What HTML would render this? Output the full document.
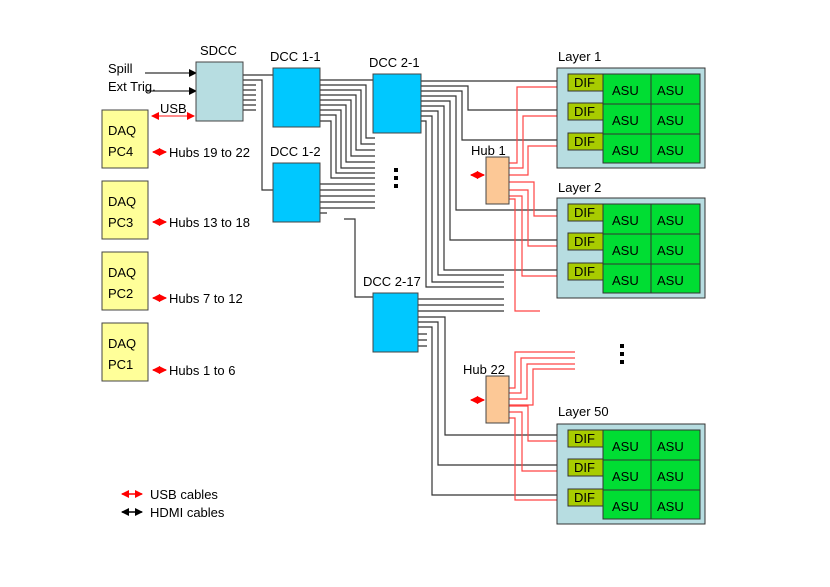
<!DOCTYPE html>
<html><head><meta charset="utf-8"><style>
html,body{margin:0;padding:0;background:#fff}
svg{display:block}
text{font-family:"Liberation Sans",Arial,sans-serif;font-size:13px;fill:#000}
</style></head><body>
<svg width="830" height="587" viewBox="0 0 830 587" xmlns="http://www.w3.org/2000/svg">
<defs>
<marker id="ab" markerWidth="8" markerHeight="8" refX="7" refY="4" orient="auto" markerUnits="userSpaceOnUse"><path d="M0,0 L8,4 L0,8 z" fill="#000"/></marker>
<marker id="ar" markerWidth="8" markerHeight="8" refX="7" refY="4" orient="auto-start-reverse" markerUnits="userSpaceOnUse"><path d="M0,0 L8,4 L0,8 z" fill="#f00"/></marker>
<marker id="ak" markerWidth="8" markerHeight="8" refX="7" refY="4" orient="auto-start-reverse" markerUnits="userSpaceOnUse"><path d="M0,0 L8,4 L0,8 z" fill="#000"/></marker>
</defs>

<g fill="none" stroke="#333" stroke-width="1.2">
<line x1="145" y1="73" x2="196" y2="73" marker-end="url(#ab)"/>
<line x1="145" y1="91" x2="196" y2="91" marker-end="url(#ab)"/>
<polyline points="243,75 273,75"/>
<polyline points="243,80 262,80 262,190 273,190"/>
<path d="M243,85h13M243,90h13M243,95h13M243,100h13M243,105h13M243,110h13"/>
<!-- DCC 1-1 outputs -->
<polyline points="320,80 373,80"/>
<polyline points="320,85 366,85 366,138 375,138"/>
<polyline points="320,90 361,90 361,144 375,144"/>
<polyline points="320,95 356,95 356,150 375,150"/>
<polyline points="320,100 351,100 351,156 375,156"/>
<polyline points="320,105 346,105 346,162 375,162"/>
<polyline points="320,110 341,110 341,168 375,168"/>
<polyline points="320,115 336,115 336,173 375,173"/>
<polyline points="320,121 331,121 331,178 375,178"/>
<!-- DCC 1-2 outputs -->
<path d="M320,184h55M320,190h55M320,196h55M320,202h55M320,208h55M320,213h7"/>
<polyline points="344,219 355,219 355,297 373,297"/>
<!-- DCC 2-1 outputs -->
<polyline points="421,81 568,81"/>
<polyline points="421,86 468,86 468,110 568,110"/>
<polyline points="421,91 462,91 462,140 568,140"/>
<polyline points="421,96 456,96 456,210 568,210"/>
<polyline points="421,101 450,101 450,240 568,240"/>
<polyline points="421,106 444,106 444,270 568,270"/>
<polyline points="421,111 438,111 438,275 504,275"/>
<polyline points="421,116 432,116 432,282 504,282"/>
<polyline points="421,121 426,121 426,287 504,287"/>
<!-- DCC 2-17 outputs -->
<path d="M418,299h86M418,305h86M418,311h86"/>
<polyline points="418,317 445,317 445,435 568,435"/>
<polyline points="418,322 438,322 438,465 568,465"/>
<polyline points="418,327 432,327 432,495 568,495"/>
<path d="M418,334h9M418,340h9M418,346h9"/>
</g>

<g fill="none" stroke="#f44" stroke-width="1.2">
<line x1="152" y1="116" x2="194" y2="116" marker-start="url(#ar)" marker-end="url(#ar)"/>
<polyline points="509,163 517,163 517,87 568,87"/>
<polyline points="509,168 523,168 523,116 568,116"/>
<polyline points="509,175 528,175 528,146 568,146"/>
<polyline points="509,182 534,182 534,216 568,216"/>
<polyline points="509,190 528,190 528,246 568,246"/>
<polyline points="509,196 522,196 522,276 568,276"/>
<polyline points="509,199 515,199 515,311 540,311"/>
<polyline points="509,388 515,388 515,352 575,352"/>
<polyline points="509,393 521,393 521,358 575,358"/>
<polyline points="509,399 527,399 527,364 575,364"/>
<polyline points="509,405 533,405 533,369 575,369"/>
<polyline points="509,406 528,406 528,441 568,441"/>
<polyline points="509,412 522,412 522,471 568,471"/>
<polyline points="509,418 515,418 515,500 568,500"/>
</g>
<g stroke="#f00" stroke-width="1.5" fill="none">
<line x1="153" y1="152" x2="166" y2="152" marker-start="url(#ar)" marker-end="url(#ar)"/>
<line x1="153" y1="222" x2="166" y2="222" marker-start="url(#ar)" marker-end="url(#ar)"/>
<line x1="153" y1="298" x2="166" y2="298" marker-start="url(#ar)" marker-end="url(#ar)"/>
<line x1="153" y1="370" x2="166" y2="370" marker-start="url(#ar)" marker-end="url(#ar)"/>
<line x1="471" y1="175" x2="484" y2="175" marker-start="url(#ar)" marker-end="url(#ar)"/>
<line x1="471" y1="400" x2="484" y2="400" marker-start="url(#ar)" marker-end="url(#ar)"/>
<line x1="122" y1="494" x2="142" y2="494" marker-start="url(#ar)" marker-end="url(#ar)"/>
</g>
<line x1="122" y1="512" x2="142" y2="512" stroke="#000" stroke-width="1.5" marker-start="url(#ak)" marker-end="url(#ak)"/>

<g stroke="#444" stroke-width="1">
<rect x="196" y="62" width="47" height="59" fill="#b7dde1"/>
<rect x="273" y="68" width="47" height="59" fill="#00c8ff"/>
<rect x="273" y="163" width="47" height="59" fill="#00c8ff"/>
<rect x="373" y="74" width="48" height="59" fill="#00c8ff"/>
<rect x="373" y="293" width="45" height="59" fill="#00c8ff"/>
<rect x="486" y="157" width="23" height="47" fill="#fcc896"/>
<rect x="486" y="376" width="23" height="47" fill="#fcc896"/>
<rect x="102" y="110" width="46" height="58" fill="#ffff99"/>
<rect x="102" y="181" width="46" height="58" fill="#ffff99"/>
<rect x="102" y="252" width="46" height="58" fill="#ffff99"/>
<rect x="102" y="323" width="46" height="58" fill="#ffff99"/>
</g>

<g id="L1" stroke="#333" stroke-width="1">
<rect x="557" y="68" width="148" height="100" fill="#b7dde1"/>
<rect x="603" y="74" width="97" height="89" fill="#00dd33"/>
<path d="M603,104h97M603,134h97M651,74v89" fill="none"/>
<rect x="568" y="74" width="35" height="17" fill="#a8cc00"/>
<rect x="568" y="103" width="35" height="17" fill="#a8cc00"/>
<rect x="568" y="133" width="35" height="17" fill="#a8cc00"/>
</g>
<use href="#L1" y="130"/>
<use href="#L1" y="356"/>

<g>
<text x="200" y="55">SDCC</text>
<text x="270" y="61">DCC 1-1</text>
<text x="270" y="156">DCC 1-2</text>
<text x="369" y="67">DCC 2-1</text>
<text x="363" y="286">DCC 2-17</text>
<text x="471" y="155">Hub 1</text>
<text x="463" y="374">Hub 22</text>
<text x="108" y="73">Spill</text>
<text x="108" y="91">Ext Trig.</text>
<text x="160" y="113">USB</text>
<text x="108" y="135">DAQ</text><text x="108" y="156">PC4</text>
<text x="108" y="206">DAQ</text><text x="108" y="227">PC3</text>
<text x="108" y="277">DAQ</text><text x="108" y="298">PC2</text>
<text x="108" y="348">DAQ</text><text x="108" y="369">PC1</text>
<text x="169" y="157">Hubs 19 to 22</text>
<text x="169" y="227">Hubs 13 to 18</text>
<text x="169" y="303">Hubs 7 to 12</text>
<text x="169" y="375">Hubs 1 to 6</text>
<text x="558" y="61">Layer 1</text>
<text x="558" y="192">Layer 2</text>
<text x="558" y="416">Layer 50</text>
<text x="150" y="499">USB cables</text>
<text x="150" y="517">HDMI cables</text>
</g>
<g id="T1">
<text x="574" y="87">DIF</text><text x="574" y="116">DIF</text><text x="574" y="146">DIF</text>
<text x="612" y="95">ASU</text><text x="657" y="95">ASU</text>
<text x="612" y="125">ASU</text><text x="657" y="125">ASU</text>
<text x="612" y="155">ASU</text><text x="657" y="155">ASU</text>
</g>
<use href="#T1" y="130"/>
<use href="#T1" y="356"/>
<g fill="#000">
<rect x="394" y="168" width="4" height="4"/><rect x="394" y="176" width="4" height="4"/><rect x="394" y="184" width="4" height="4"/>
<rect x="620" y="344" width="4" height="4"/><rect x="620" y="352" width="4" height="4"/><rect x="620" y="360" width="4" height="4"/>
</g>
</svg>
</body></html>
